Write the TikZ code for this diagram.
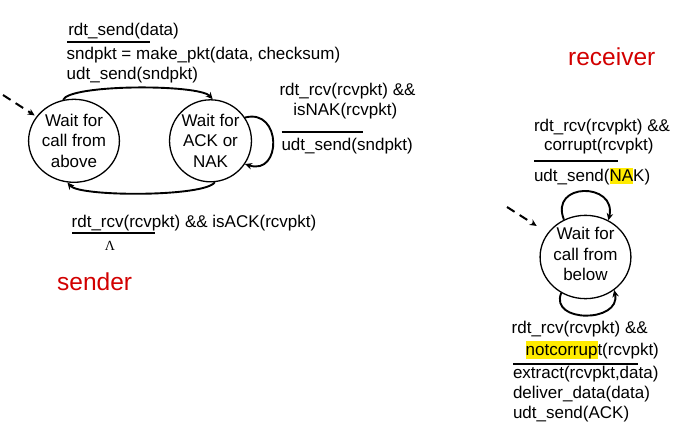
\documentclass[tikz,border=0pt]{standalone}
\usepackage{fontspec}
\setmainfont{Liberation Sans}
\newfontfamily\lamfont{Liberation Serif}
\usetikzlibrary{arrows.meta,shapes.geometric}
\definecolor{rdred}{RGB}{210,0,0}
\definecolor{hl}{RGB}{255,235,0}
\newcommand{\hlbox}[1]{{\setlength{\fboxsep}{0pt}\colorbox{hl}{\rule[-2.7pt]{0pt}{16.5pt}#1}}}
\begin{document}
\begin{tikzpicture}[x=1pt,y=-1pt,
  font=\fontsize{17}{20.3}\selectfont,
  lbl/.style={anchor=base west, inner sep=0pt, outer sep=0pt},
  state/.style={draw, ellipse, line width=1.3pt, inner sep=0pt, align=center},
  trans/.style={line width=1.9pt, -{Stealth[length=7pt,width=6.5pt]}},
  initarr/.style={line width=2pt, dash pattern=on 9pt off 6pt, -{Stealth[length=7pt,width=6.5pt]}},
  bar/.style={line width=2pt},
  role/.style={anchor=base west, inner sep=0pt, text=rdred, font=\fontsize{24.5}{28}\selectfont}]
\useasboundingbox (0,0) rectangle (686,434);

% ---------------- sender ----------------
\node[state, minimum width=83pt, minimum height=83pt] (s1) at (74,140.8) {Wait for\\call from\\above};
\node[state, minimum width=81pt, minimum height=82pt] (s2) at (210.5,140.8) {Wait for\\ACK or\\NAK};

\coordinate (d1) at (3,95);
\draw[initarr, shorten >=2pt] (d1) -- (s1);

\draw[trans] (s1.105) .. controls (70,84) and (199,84) .. (s2.87);
\draw[trans] (s2.276) .. controls (205,197) and (80,197) .. (s1.261);
\draw[trans] (s2.34) .. controls (282,108) and (282,176) .. (s2.-34);

\node[lbl] (t1) at (68.3,35) {rdt\_send(data)};
\draw[bar] (67,41.7) -- (150,41.7);
\node[lbl] (t2) at (66.7,59.5) {sndpkt = make\_pkt(data, checksum)};
\node[lbl] (t3) at (66.7,79.3) {udt\_send(sndpkt)};

\node[lbl] (n1) at (279.5,95) {rdt\_rcv(rcvpkt) \&\&};
\node[lbl] (n2) at (293.3,115) {isNAK(rcvpkt)};
\draw[bar] (281.5,131.7) -- (363,131.7);
\node[lbl] (n3) at (281.5,150) {udt\_send(sndpkt)};

\node[lbl] (a1) at (71.7,227.7) {rdt\_rcv(rcvpkt) \&\& isACK(rcvpkt)};
\draw[bar] (72,233.3) -- (155,233.3);
\node[inner sep=0pt, anchor=base, font=\lamfont\fontsize{14}{16}\selectfont] (lam) at (110,250.5) {Λ};

\node[role] (sender) at (57,290.7) {sender};

% ---------------- receiver ----------------
\node[role] (receiver) at (568,65) {receiver};

\node[state, minimum width=86pt, minimum height=80pt] (r) at (585.5,257) {Wait for\\call from\\below\rule[-6pt]{0pt}{0pt}};

\coordinate (d2) at (507,207);
\draw[initarr, shorten >=13pt] (d2) -- (r);

\draw[trans] (r.120) .. controls (549,182) and (617,182) .. (r.58);
\draw[trans] (r.236) .. controls (549,323) and (621,323) .. (r.311);

\node[lbl] (c1) at (534,131.7) {rdt\_rcv(rcvpkt) \&\&};
\node[lbl] (c2) at (544,150) {corrupt(rcvpkt)};
\draw[bar] (534,161) -- (617.5,161);
\node[lbl] (c3) at (534,181.7) {udt\_send(\hlbox{NA}K)};

\node[lbl] (k1) at (511.7,333.3) {rdt\_rcv(rcvpkt) \&\&};
\node[lbl] (k2) at (525.7,355) {\hlbox{notcorrup}t(rcvpkt)};
\draw[bar] (513,364) -- (638,364);
\node[lbl] (k3) at (513,378.3) {extract(rcvpkt,data)};
\node[lbl] (k4) at (513,398.3) {deliver\_data(data)};
\node[lbl] (k5) at (513,418.3) {udt\_send(ACK)};
\end{tikzpicture}
\end{document}
